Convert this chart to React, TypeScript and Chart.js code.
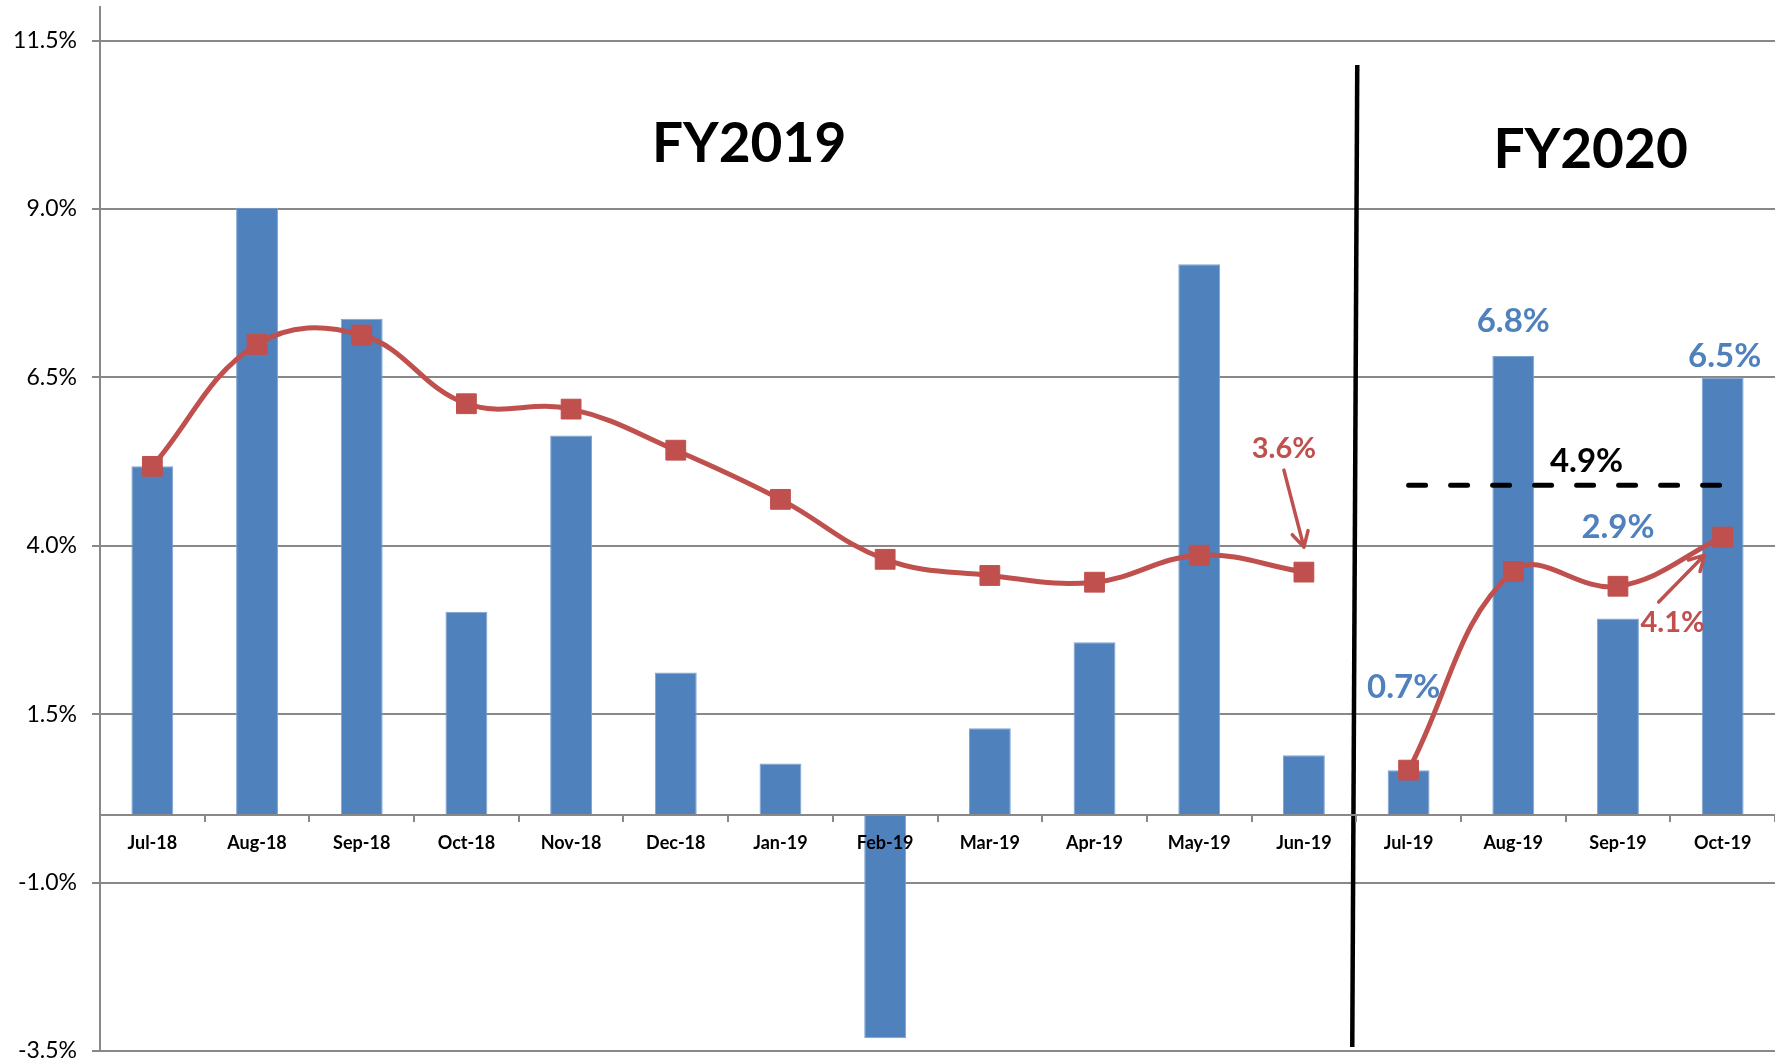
import React, { useEffect, useRef } from "react";
import { Chart, registerables } from "chart.js";

Chart.register(...registerables);

// ---- Data ----
const months = [
  "Jul-18", "Aug-18", "Sep-18", "Oct-18", "Nov-18", "Dec-18",
  "Jan-19", "Feb-19", "Mar-19", "Apr-19", "May-19", "Jun-19",
  "Jul-19", "Aug-19", "Sep-19", "Oct-19",
];
const monthlyGrowth = [5.18, 9.02, 7.37, 3.02, 5.64, 2.12, 0.77, -3.31, 1.29, 2.57, 8.18, 0.89, 0.67, 6.82, 2.92, 6.5];
const cumulativeFY2019 = [5.18, 6.99, 7.13, 6.11, 6.03, 5.42, 4.69, 3.8, 3.56, 3.46, 3.86, 3.61];
const cumulativeFY2020 = [0.67, 3.62, 3.4, 4.13];
const targetFY2020 = 4.9;
const yTicks = [-3.5, -1.0, 1.5, 4.0, 6.5, 9.0, 11.5];
const periodTitles = ["FY2019", "FY2020"];
const barLabelMonths = ["Jul-19", "Aug-19", "Sep-19", "Oct-19"];

const BLUE = "#4F81BD";
const RED = "#C0504D";
const GRID = "#888888";
const FONT = "Lato, 'Open Sans', sans-serif";

const zeroPadding = () => ({ left: 0, top: 0, right: 0, bottom: 0 });

const annotationPlugin = {
  id: "annotations",
  afterDatasetsDraw(chart: any) {
    const { ctx, chartArea, scales } = chart;
    const x = scales.x;
    const y = scales.y;
    const idx = (m: string) => months.indexOf(m);
    const fmt = (v: number) => v.toFixed(1) + "%";
    ctx.save();

    // vertical divider between fiscal years
    const split = (x.getPixelForValue(11) + x.getPixelForValue(12)) / 2;
    ctx.strokeStyle = "#000";
    ctx.lineWidth = 4.5;
    ctx.beginPath();
    ctx.moveTo(split + 1, chartArea.top + 58);
    ctx.lineTo(split - 4, chartArea.bottom - 4);
    ctx.stroke();

    // period titles
    ctx.fillStyle = "#000";
    ctx.textAlign = "center";
    ctx.textBaseline = "middle";
    ctx.font = `bold 55px ${FONT}`;
    ctx.fillText(periodTitles[0], (x.getPixelForValue(0) + x.getPixelForValue(11)) / 2 + 21, 144);
    ctx.fillText(periodTitles[1], (x.getPixelForValue(12) + x.getPixelForValue(15)) / 2 + 25, 150);

    // dashed target line
    const ty = y.getPixelForValue(targetFY2020);
    ctx.setLineDash([17, 25]);
    ctx.lineCap = "round";
    ctx.lineWidth = 5;
    ctx.beginPath();
    ctx.moveTo(x.getPixelForValue(12), ty);
    ctx.lineTo(x.getPixelForValue(15), ty);
    ctx.stroke();
    ctx.setLineDash([]);
    ctx.font = `bold 33px ${FONT}`;
    ctx.fillText(fmt(targetFY2020), x.getPixelForValue(13.7), ty - 24);

    // blue bar labels
    const barOffsets: Record<string, [number, number]> = {
      "Jul-19": [-5, -83],
      "Aug-19": [0, -35],
      "Sep-19": [0, -91],
      "Oct-19": [2, -21],
    };
    ctx.fillStyle = BLUE;
    ctx.font = `bold 33px ${FONT}`;
    barLabelMonths.forEach((m) => {
      const i = idx(m);
      const v = monthlyGrowth[i];
      const [dx, dy] = barOffsets[m];
      ctx.fillText(fmt(v), x.getPixelForValue(i) + dx, y.getPixelForValue(v) + dy);
    });

    // red callouts with arrows
    const arrow = (x1: number, y1: number, x2: number, y2: number) => {
      ctx.strokeStyle = RED;
      ctx.lineWidth = 3.5;
      ctx.lineCap = "round";
      ctx.beginPath();
      ctx.moveTo(x1, y1);
      ctx.lineTo(x2, y2);
      const a = Math.atan2(y2 - y1, x2 - x1);
      const L = 17;
      ctx.moveTo(x2, y2);
      ctx.lineTo(x2 - L * Math.cos(a - 0.5), y2 - L * Math.sin(a - 0.5));
      ctx.moveTo(x2, y2);
      ctx.lineTo(x2 - L * Math.cos(a + 0.5), y2 - L * Math.sin(a + 0.5));
      ctx.stroke();
    };
    ctx.fillStyle = RED;
    ctx.font = `bold 29px ${FONT}`;
    {
      const i = idx("Jun-19");
      const v = cumulativeFY2019[cumulativeFY2019.length - 1];
      const px = x.getPixelForValue(i);
      const py = y.getPixelForValue(v);
      ctx.fillText(fmt(v), px - 20, py - 123);
      arrow(px - 20, py - 102, px, py - 25);
    }
    {
      const i = idx("Oct-19");
      const v = cumulativeFY2020[cumulativeFY2020.length - 1];
      const px = x.getPixelForValue(i);
      const py = y.getPixelForValue(v);
      ctx.fillStyle = RED;
      ctx.fillText(fmt(v), px - 50, py + 86);
      arrow(px - 64, py + 65, px - 18, py + 18);
    }
    ctx.restore();
  },
};

export default function App() {
  const ref = useRef<HTMLCanvasElement | null>(null);

  useEffect(() => {
    document.body.style.margin = "0";
    const canvas = ref.current;
    if (!canvas) return;
    const pad = (arr: number[], before: number, total: number) => {
      const out: (number | null)[] = [];
      for (let i = 0; i < total; i++) {
        const k = i - before;
        out.push(k >= 0 && k < arr.length ? arr[k] : null);
      }
      return out;
    };
    const lineStyle = {
      type: "line" as const,
      borderColor: RED,
      backgroundColor: RED,
      borderWidth: 5,
      tension: 0.4,
      pointStyle: "rect",
      pointRadius: 14,
      pointHoverRadius: 14,
      pointBackgroundColor: RED,
      pointBorderColor: RED,
      pointBorderWidth: 1,
      fill: false,
      spanGaps: false,
      order: 0,
    };
    const chart = new Chart(canvas, {
      type: "bar",
      data: {
        labels: months,
        datasets: [
          {
            ...lineStyle,
            label: "FY2019 cumulative",
            data: pad(cumulativeFY2019, 0, months.length),
          } as any,
          {
            ...lineStyle,
            label: "FY2020 cumulative",
            data: pad(cumulativeFY2020, 12, months.length),
          } as any,
          {
            type: "bar",
            label: "Monthly",
            data: monthlyGrowth,
            backgroundColor: BLUE,
            borderColor: "#7FA3D0",
            borderWidth: 1,
            barPercentage: 0.4,
            categoryPercentage: 1,
            order: 1,
          },
        ],
      },
      options: {
        animation: false,
        responsive: false,
        maintainAspectRatio: false,
        layout: { autoPadding: false, padding: { top: 7, right: 0, bottom: 12, left: 0 } },
        plugins: {
          legend: { display: false },
          tooltip: { enabled: false },
        },
        scales: {
          x: {
            position: { y: 0 } as any,
            offset: true,
            afterFit: (s: any) => {
              s.paddingLeft = 0;
              s.paddingRight = 0;
              s.getPadding = zeroPadding;
            },
            grid: {
              display: true,
              drawOnChartArea: false,
              drawTicks: true,
              tickLength: 6,
              offset: true,
              color: GRID,
              lineWidth: 2,
              z: 1,
            },
            border: { display: true, color: GRID, width: 2, z: 1 },
            ticks: {
              font: { family: FONT, size: 18, weight: "bold" },
              color: "#000",
              padding: 11,
              maxRotation: 0,
              autoSkip: false,
              z: 1,
            },
          },
          y: {
            min: -3.5,
            max: 12.0,
            afterBuildTicks: (s: any) => {
              s.ticks = yTicks.map((v) => ({ value: v }));
            },
            afterFit: (s: any) => {
              s.width = 100;
              s.paddingTop = 0;
              s.paddingBottom = 0;
              s.getPadding = zeroPadding;
            },
            grid: { color: GRID, lineWidth: 2, tickLength: 8, drawTicks: true },
            border: { display: true, color: GRID, width: 2 },
            ticks: {
              callback: (v: any) => Number(v).toFixed(1) + "%",
              font: { family: FONT, size: 23 },
              color: "#000",
              padding: 15,
            },
          },
        },
      },
      plugins: [annotationPlugin],
    });
    return () => chart.destroy();
  }, []);

  return (
    <div style={{ position: "absolute", left: 0, top: 0, width: 1775, height: 1063, background: "#fff" }}>
      <canvas ref={ref} width={1775} height={1063} />
    </div>
  );
}
